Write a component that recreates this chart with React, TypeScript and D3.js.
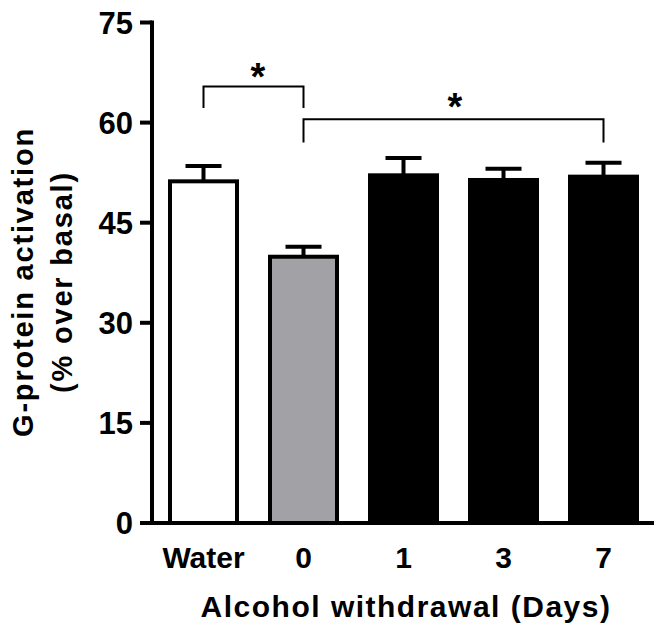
import React from "react";
import * as d3 from "d3";

const categories = ["Water", "0", "1", "3", "7"];
const means = [51.2, 39.9, 52.1, 51.4, 51.9];
const errors = [2.3, 1.5, 2.6, 1.7, 2.1];
const fills = ["#ffffff", "#a2a1a6", "#000000", "#000000", "#000000"];
const yTicks = [0, 15, 30, 45, 60, 75];
const yTitleLines = ["G-protein activation", "(% over basal)"];
const xTitle = "Alcohol withdrawal (Days)";
const brackets = [
  { from: "Water", to: "0", level: 65.4, leg: 62.2, label: "*", starX: 258, starY: 90 },
  { from: "0", to: "7", level: 60.5, leg: 57.0, label: "*", starX: 455, starY: 120 },
];

const W = 664;
const H = 632;
const FONT = "'Liberation Sans', Arial, Helvetica, sans-serif";

export default function App() {
  const x = d3
    .scaleBand<string>()
    .domain(categories)
    .range([153.5, 653.5])
    .paddingInner(0.33)
    .paddingOuter(0.165);
  const y = d3.scaleLinear().domain([0, 75]).range([523, 22.5]);
  const axisX = 152;
  const bw = x.bandwidth();
  const cx = (c: string) => (x(c) as number) + bw / 2;

  return (
    <svg
      width={W}
      height={H}
      style={{ position: "absolute", left: 0, top: 0, background: "#fff" }}
      fontFamily={FONT}
      fontWeight="bold"
    >
      {/* bars */}
      {categories.map((c, i) => (
        <g key={c}>
          <line
            x1={cx(c)}
            x2={cx(c)}
            y1={y(means[i])}
            y2={y(means[i] + errors[i])}
            stroke="#000"
            strokeWidth={4}
          />
          <line
            x1={cx(c) - 18}
            x2={cx(c) + 18}
            y1={y(means[i] + errors[i])}
            y2={y(means[i] + errors[i])}
            stroke="#000"
            strokeWidth={4}
          />
          <rect
            x={x(c)}
            y={y(means[i])}
            width={bw}
            height={y(0) - y(means[i])}
            fill={fills[i]}
            stroke="#000"
            strokeWidth={4}
          />
        </g>
      ))}

      {/* y axis */}
      <line x1={axisX} x2={axisX} y1={y(75) - 2} y2={y(0)} stroke="#000" strokeWidth={4} />
      {yTicks.map((t) => (
        <g key={t}>
          <line x1={140} x2={axisX} y1={y(t)} y2={y(t)} stroke="#000" strokeWidth={4} />
          <text x={133} y={y(t)} dy="0.36em" textAnchor="end" fontSize={31}>
            {t}
          </text>
        </g>
      ))}

      {/* x axis */}
      <line x1={140} x2={654} y1={y(0)} y2={y(0)} stroke="#000" strokeWidth={4} />
      {categories.map((c) => (
        <text key={c} x={cx(c)} y={568} textAnchor="middle" fontSize={30}>
          {c}
        </text>
      ))}
      <text x={406} y={617} textAnchor="middle" fontSize={30} letterSpacing={1.5}>
        {xTitle}
      </text>

      {/* y title */}
      {yTitleLines.map((l, i) => (
        <text
          key={l}
          transform={`translate(${33 + i * 39},282) rotate(-90)`}
          textAnchor="middle"
          fontSize={29}
          letterSpacing={1.8}
        >
          {l}
        </text>
      ))}

      {/* significance brackets */}
      {brackets.map((b, i) => {
        const x1 = cx(b.from);
        const x2 = cx(b.to);
        return (
          <g key={i}>
            <path
              d={`M${x1},${y(b.leg)}V${y(b.level)}H${x2}V${y(b.leg)}`}
              fill="none"
              stroke="#000"
              strokeWidth={2}
            />
            <text x={b.starX} y={b.starY} textAnchor="middle" fontSize={38}>
              {b.label}
            </text>
          </g>
        );
      })}
    </svg>
  );
}
